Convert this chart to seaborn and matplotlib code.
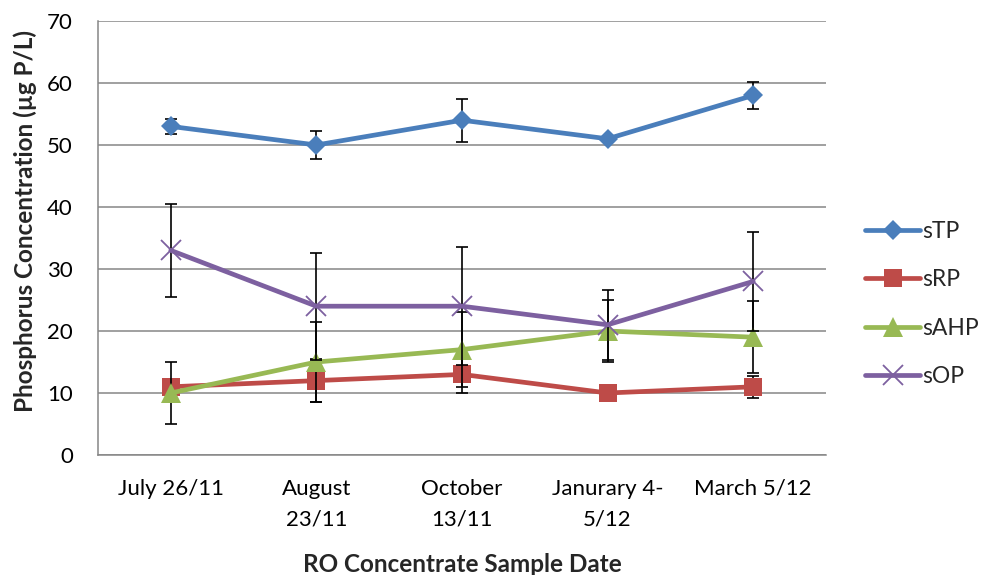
import numpy as np
import matplotlib
matplotlib.use("Agg")
import matplotlib.pyplot as plt
import seaborn as sns

# Sample dates (tick labels) and measured concentrations
dates = ["July 26/11", "August\n23/11", "October\n13/11", "Janurary 4-\n5/12", "March 5/12"]
series_names = ["sTP", "sRP", "sAHP", "sOP"]

stp = [53, 50, 54, 51, 58]
srp = [11, 12, 13, 10, 11]
sahp = [10, 15, 17, 20, 19]
sop = [33, 24, 24, 21, 28]

# Standard deviations (error bars)
stp_err = [1.2, 2.2, 3.5, 0.5, 2.2]
srp_err = [1.0, 3.5, 3.0, 0.6, 1.8]
sahp_err = [5.0, 6.5, 6.0, 5.0, 5.8]
sop_err = [7.5, 8.6, 9.5, 5.6, 8.0]

y_ticks = [0, 10, 20, 30, 40, 50, 60, 70]

sns.set_theme(style="white")
plt.rcParams["font.family"] = ["Lato", "DejaVu Sans"]

fig = plt.figure(figsize=(9.82, 5.75), dpi=100)
ax = fig.add_axes([98 / 982, 1 - 455 / 575, (826 - 98) / 982, (455 - 21) / 575])

x = np.arange(len(dates))
values = [stp, srp, sahp, sop]
errors = [stp_err, srp_err, sahp_err, sop_err]
colors = ["#4A7EBB", "#BE4B48", "#98B954", "#7D60A0"]
markers = ["D", "s", "^", "x"]
msizes = [10, 13.5, 14, 14]
mews = [0, 0, 0, 1.3]

for i, (name, vals, errs, col, mk, ms, mew) in enumerate(
        zip(series_names, values, errors, colors, markers, msizes, mews)):
    ax.errorbar(x, vals, yerr=errs, fmt="none", ecolor="black",
                elinewidth=1.2, capsize=4.2, capthick=1.2, zorder=3 + 2 * i)
    sns.lineplot(x=x, y=vals, ax=ax, color=col, linewidth=3.4, marker=mk,
                 markersize=ms, markeredgewidth=mew, markeredgecolor=col,
                 label=name, zorder=4 + 2 * i)

ax.set_xlim(-0.5, 4.5)
ax.set_ylim(0, 70)
ax.set_yticks(y_ticks)
ax.set_xticks(x)
ax.set_xticklabels(dates, linespacing=1.7)
ax.tick_params(axis="both", length=0, labelsize=16, colors="black")
ax.tick_params(axis="x", pad=17)
ax.tick_params(axis="y", pad=18)

ax.grid(axis="y", color="#868686", linewidth=1.1)
ax.grid(axis="x", visible=False)
ax.set_axisbelow(True)
for side in ["top", "right"]:
    ax.spines[side].set_visible(False)
for side in ["left", "bottom"]:
    ax.spines[side].set_color("#868686")
    ax.spines[side].set_linewidth(1.1)

ax.set_xlabel("RO Concentrate Sample Date", fontsize=17.5, fontweight="bold")
ax.xaxis.label.set_va("center")
ax.xaxis.set_label_coords(0.5, -0.252)
ax.set_ylabel("Phosphorus Concentration (µg P/L)", fontsize=17.5, fontweight="bold")
ax.yaxis.label.set_va("center")
ax.yaxis.set_label_coords(-0.1003, 0.539)

ax.legend(loc="center left", bbox_to_anchor=(865 / 982, 1 - 304 / 575),
          bbox_transform=fig.transFigure, frameon=False, fontsize=16.5,
          handlelength=2.4, handletextpad=0.1, labelspacing=1.2,
          borderpad=0, borderaxespad=0)

fig.savefig("out.png", dpi=100)
